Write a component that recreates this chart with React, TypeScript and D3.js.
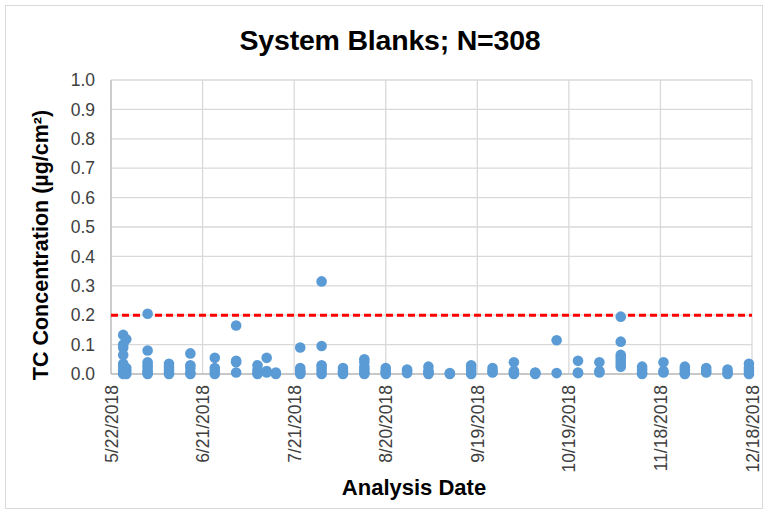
import React from 'react'
import * as d3 from 'd3'

// weekly blank runs: analysis date and measured TC values (µg/cm²)
const runDates = [
  '2018-05-26', '2018-05-27', '2018-06-03', '2018-06-10', '2018-06-17', '2018-06-25',
  '2018-07-02', '2018-07-09', '2018-07-12', '2018-07-15', '2018-07-23', '2018-07-30',
  '2018-08-06', '2018-08-13', '2018-08-20', '2018-08-27', '2018-09-03', '2018-09-10',
  '2018-09-17', '2018-09-24', '2018-10-01', '2018-10-08', '2018-10-15', '2018-10-22',
  '2018-10-29', '2018-11-05', '2018-11-12', '2018-11-19', '2018-11-26', '2018-12-03',
  '2018-12-10', '2018-12-17',
]
const runValues = [
  [0.133, 0.1, 0.09, 0.065, 0.035, 0.025, 0.015, 0.005, 0.0],
  [0.118, 0.02, 0.01, 0.0],
  [0.205, 0.08, 0.04, 0.03, 0.02, 0.01, 0.005, 0.0],
  [0.035, 0.025, 0.015, 0.005, 0.0],
  [0.07, 0.03, 0.02, 0.005, 0.0],
  [0.055, 0.02, 0.01, 0.0],
  [0.165, 0.045, 0.04, 0.005],
  [0.03, 0.015, 0.005, 0.0],
  [0.055, 0.01, 0.005],
  [0.005, 0.0],
  [0.09, 0.02, 0.01, 0.005, 0.0],
  [0.315, 0.095, 0.03, 0.02, 0.01, 0.0],
  [0.02, 0.01, 0.005, 0.0],
  [0.05, 0.04, 0.025, 0.015, 0.005, 0.0],
  [0.02, 0.01, 0.005, 0.0],
  [0.015, 0.01, 0.003],
  [0.025, 0.01, 0.005, 0.0],
  [0.003, 0.0],
  [0.03, 0.02, 0.01, 0.0],
  [0.02, 0.01, 0.005],
  [0.04, 0.01, 0.005, 0.0],
  [0.005, 0.003, 0.0],
  [0.115, 0.003],
  [0.045, 0.005, 0.003],
  [0.04, 0.01, 0.005],
  [0.195, 0.11, 0.065, 0.055, 0.045, 0.035, 0.025],
  [0.025, 0.015, 0.005, 0.0],
  [0.04, 0.01, 0.005],
  [0.025, 0.015, 0.005, 0.0],
  [0.02, 0.01, 0.005],
  [0.015, 0.005, 0.0],
  [0.035, 0.02, 0.01, 0.0],
]
const xTickDates = ['2018-05-22', '2018-06-21', '2018-07-21', '2018-08-20', '2018-09-19',
  '2018-10-19', '2018-11-18', '2018-12-18']
const yTicks = [0, 0.1, 0.2, 0.3, 0.4, 0.5, 0.6, 0.7, 0.8, 0.9, 1.0]
const limitValue = 0.2

const W = 765
const H = 510
const left = 111, right = 752, top = 80, bottom = 374

export default function App() {
  const parse = d3.timeParse('%Y-%m-%d')
  const fmt = d3.timeFormat('%-m/%-d/%Y')
  const x = d3.scaleTime()
    .domain([parse(xTickDates[0]) as Date, parse(xTickDates[xTickDates.length - 1]) as Date])
    .range([left, right])
  const y = d3.scaleLinear().domain([0, 1]).range([bottom, top])

  const points: { d: Date; v: number }[] = []
  runDates.forEach((ds, i) => {
    runValues[i].forEach(v => points.push({ d: parse(ds) as Date, v }))
  })

  const font = 'Arial, "Liberation Sans", sans-serif'

  return (
    <svg width={W} height={H} style={{ position: 'absolute', left: 0, top: 0, background: '#fff' }}
      fontFamily={font}>
      <rect x={5.5} y={5.5} width={757} height={503} fill="#fff" stroke="#d9d9d9" />
      <text x={390} y={50} textAnchor="middle" fontSize={28.5} fontWeight="bold" fill="#000"
        letterSpacing={-0.2}>
        System Blanks; N=308
      </text>

      {/* grid */}
      {yTicks.map(t => (
        <line key={'gy' + t} x1={left} x2={right} y1={y(t)} y2={y(t)} stroke="#d9d9d9" strokeWidth={1.3} />
      ))}
      {xTickDates.map(s => {
        const xx = x(parse(s) as Date)
        return <line key={'gx' + s} x1={xx} x2={xx} y1={top} y2={bottom} stroke="#d9d9d9" strokeWidth={1.3} />
      })}
      <line x1={left} x2={right} y1={bottom} y2={bottom} stroke="#bfbfbf" strokeWidth={1.3} />
      <line x1={left} x2={left} y1={top} y2={bottom} stroke="#bfbfbf" strokeWidth={1.3} />

      {/* y labels */}
      {yTicks.map(t => (
        <text key={'ly' + t} x={95} y={y(t)} dy="0.35em" textAnchor="end" fontSize={17.5} fill="#404040">
          {t.toFixed(1)}
        </text>
      ))}
      {/* x labels */}
      {xTickDates.map(s => {
        const xx = x(parse(s) as Date)
        return (
          <text key={'lx' + s} transform={`translate(${xx + 6.5},${385}) rotate(-90)`}
            textAnchor="end" fontSize={17.5} fill="#404040">
            {fmt(parse(s) as Date)}
          </text>
        )
      })}

      {/* limit line */}
      <line x1={left} x2={right} y1={y(limitValue)} y2={y(limitValue)} stroke="#ff0000"
        strokeWidth={3} strokeDasharray="7,4" />

      {/* points */}
      {points.map((p, i) => (
        <circle key={i} cx={x(p.d)} cy={y(p.v)} r={5.3} fill="#5b9bd5" />
      ))}

      <text transform={`translate(48,245) rotate(-90)`} textAnchor="middle"
        fontSize={21.5} fontWeight="bold" fill="#000">
        TC Concentration (µg/cm²)
      </text>
      <text x={414} y={495} textAnchor="middle" fontSize={22} fontWeight="bold" fill="#000">
        Analysis Date
      </text>
    </svg>
  )
}
